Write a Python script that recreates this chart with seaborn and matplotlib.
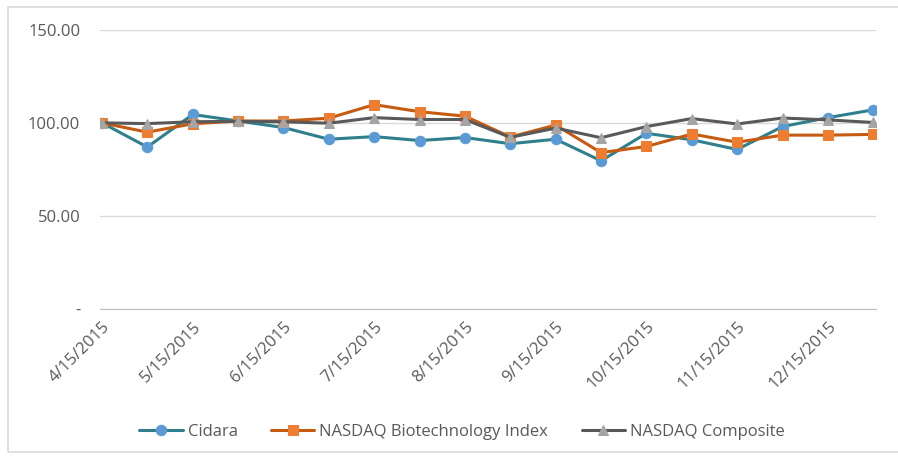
import pandas as pd
import matplotlib.pyplot as plt
import seaborn as sns
from matplotlib.patches import Rectangle

dates = ["4/15/2015", "4/30/2015", "5/15/2015", "5/31/2015", "6/15/2015", "6/30/2015",
         "7/15/2015", "7/31/2015", "8/15/2015", "8/31/2015", "9/15/2015", "9/30/2015",
         "10/15/2015", "10/31/2015", "11/15/2015", "11/30/2015", "12/15/2015", "12/31/2015"]
cidara = [100, 87, 104.5, 101, 97.5, 91.2, 92.6, 90.5, 92.1, 88.8, 91.2, 79.6,
          94.4, 90.9, 85.7, 98, 102.8, 107]
biotech = [100, 95, 99.5, 101, 101, 102.5, 109.8, 106, 103.6, 92.4, 98.8, 84,
           87.3, 94, 89.6, 93.4, 93.4, 93.8]
composite = [100, 99.6, 100.6, 100.8, 100.6, 99.8, 102.8, 101.8, 101.8, 92.2, 97.2, 92,
             98, 102.3, 99.4, 102.6, 101.6, 100.2]

series = ["Cidara", "NASDAQ Biotechnology Index", "NASDAQ Composite"]
values = [cidara, biotech, composite]
line_colors = ["#2f7f8c", "#c55a11", "#595959"]
marker_colors = ["#5b9bd5", "#ed7d31", "#a5a5a5"]
markers = ["o", "s", "^"]

sns.set_style("white")
plt.rcParams["font.family"] = ["Open Sans", "DejaVu Sans"]

fig = plt.figure(figsize=(8.98, 4.59), dpi=100)
ax = fig.add_axes([0.111, 0.327, 0.864, 0.608])

idx = list(range(len(dates)))
for name, vals, lc, mc, mk in zip(series, values, line_colors, marker_colors, markers):
    df = pd.DataFrame({"i": idx, "v": vals})
    sns.lineplot(data=df, x="i", y="v", ax=ax, color=lc, linewidth=2.2, marker=mk,
                 markersize=7.5, markerfacecolor=mc, markeredgecolor=mc, label=name)

ax.set_ylim(0, 150)
ax.set_xlim(-0.05, len(dates) - 0.95)
ax.set_yticks([0, 50, 100, 150])
ax.set_yticklabels(["-", "50.00", "100.00", "150.00"])
ax.set_xticks(idx[::2])
ax.set_xticklabels(dates[::2], rotation=45, ha="right", va="top", rotation_mode="anchor")
ax.grid(axis="y", color="#d9d9d9", linewidth=1)
ax.set_axisbelow(True)
for s in ["top", "right", "left"]:
    ax.spines[s].set_visible(False)
ax.spines["bottom"].set_color("#bfbfbf")
ax.tick_params(axis="x", length=4, color="#bfbfbf", colors="#595959", labelsize=12, pad=3)
ax.tick_params(axis="y", length=0, colors="#595959", labelsize=12, pad=14)
ax.set_xlabel("")
ax.set_ylabel("")

ax.legend(loc="center", bbox_to_anchor=(0.467, -0.44), ncol=3, frameon=False,
          fontsize=12, labelcolor="#595959", handlelength=2.6, columnspacing=2.0,
          handletextpad=0.3)

fig.patches.append(Rectangle((0.009, 0.015), 1.2, 0.97, transform=fig.transFigure,
                             fill=False, edgecolor="#d9d9d9", linewidth=1.2))

fig.savefig("out.png", dpi=100)
